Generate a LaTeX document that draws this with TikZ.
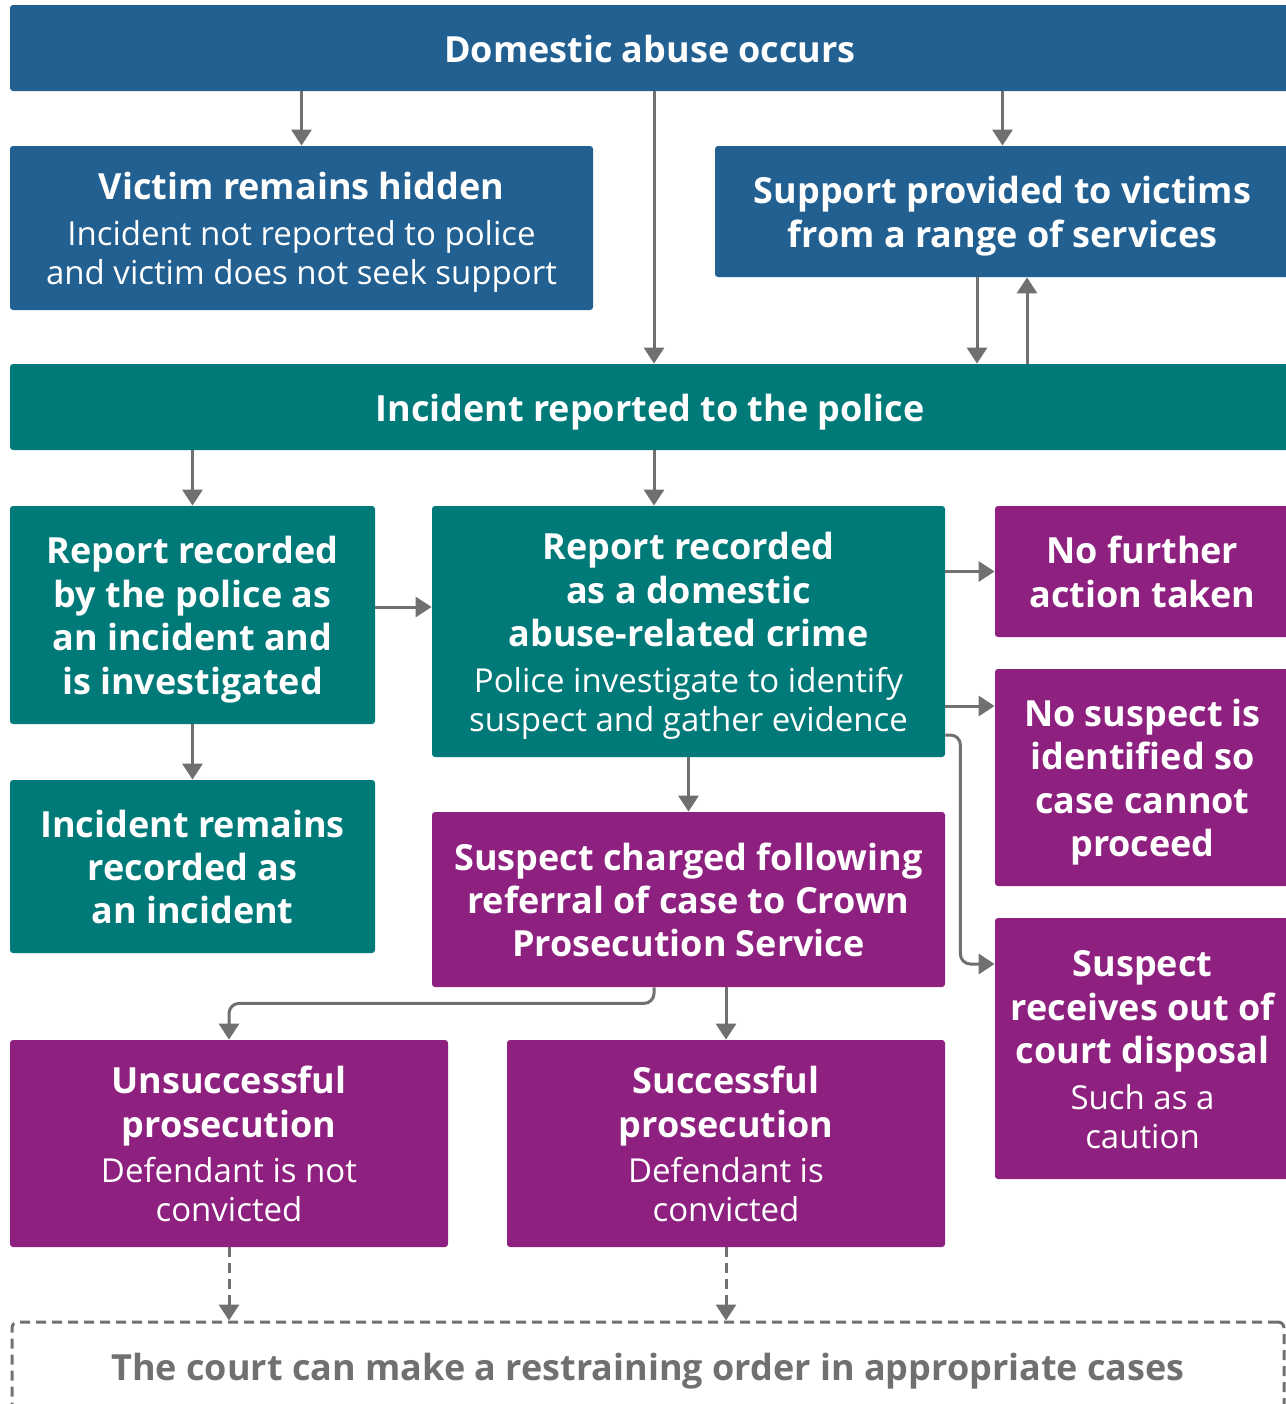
\documentclass[tikz,border=0pt]{standalone}
\usepackage{fontspec}
\setmainfont{Open Sans}
\usetikzlibrary{arrows.meta}
\definecolor{dablue}{HTML}{226091}
\definecolor{dateal}{HTML}{007A78}
\definecolor{dapurple}{HTML}{8E2180}
\definecolor{daline}{HTML}{707070}
\def\subtxt#1{{\fontsize{16.5}{19.5}\selectfont\mdseries #1}}
\def\capup{\rule{0pt}{19pt}}
\def\capdown{\rule[-5pt]{0pt}{5pt}}
\begin{document}
\begin{tikzpicture}[x=0.5pt,y=-0.5pt,
    box/.style={fill=#1,text=white,align=center,inner sep=0pt,rounded corners=1.5pt,
        font=\fontsize{18}{21.7}\selectfont\bfseries},
    flow/.style={draw=daline,line width=1.5pt,-{Triangle[length=8pt,width=10pt]}},
    maybe/.style={flow,dash pattern=on 5pt off 3pt}]
    \useasboundingbox (0,0) rectangle (1286,1404);
    \clip (0,0) rectangle (1286,1404);
    % blue row
    \node[box=dablue,minimum width=640pt,minimum height=43pt] (occurs) at (650,48) {\capup Domestic abuse occurs\capdown};
    \node[box=dablue,minimum width=291.5pt,minimum height=82pt] (hidden) at (301.5,228)
        {\capup Victim remains hidden\\[1pt] \subtxt{Incident not reported to police}\\[-2.2pt] \subtxt{and victim does not seek support}\capdown};
    \node[box=dablue,minimum width=287.5pt,minimum height=65.5pt] (support) at (1002.5,211.5)
        {\capup Support provided to victims\\ from a range of services\capdown};
    % police
    \node[box=dateal,minimum width=640pt,minimum height=43pt] (reported) at (650,407) {\capup Incident reported to the police\capdown};
    \node[box=dateal,minimum width=182.5pt,minimum height=109pt] (incident) at (192.5,615)
        {\capup Report recorded\\ by the police as\\ an incident and\\ is investigated\capdown};
    \node[box=dateal,minimum width=182.5pt,minimum height=86.5pt] (remains) at (192.5,866.5)
        {\capup Incident remains\\ recorded as\\ an incident\capdown};
    \node[box=dateal,minimum width=256.5pt,minimum height=125.5pt] (crime) at (688.5,631.5)
        {\capup Report recorded\\ as a domestic\\ abuse-related crime\\[1pt] \subtxt{Police investigate to identify}\\[-2.2pt] \subtxt{suspect and gather evidence}\capdown};
    % outcomes
    \node[box=dapurple,minimum width=147.5pt,minimum height=65.5pt] (nfa) at (1142.5,571.5)
        {\capup No further\\ action taken\capdown};
    \node[box=dapurple,minimum width=147.5pt,minimum height=108.5pt] (nosuspect) at (1142.5,777.5)
        {\capup No suspect is\\ identified so\\ case cannot\\ proceed\capdown};
    \node[box=dapurple,minimum width=147.5pt,minimum height=130.5pt] (ooc) at (1142.5,1048.5)
        {\capup Suspect\\ receives out of\\ court disposal\\[1pt] \subtxt{Such as a}\\[-2.2pt] \subtxt{caution}\capdown};
    \node[box=dapurple,minimum width=256.5pt,minimum height=87.5pt] (charged) at (688.5,899.5)
        {\capup Suspect charged following\\ referral of case to Crown\\ Prosecution Service\capdown};
    \node[box=dapurple,minimum width=219pt,minimum height=103.5pt] (unsucc) at (229,1143.5)
        {\capup Unsuccessful\\ prosecution\\[1pt] \subtxt{Defendant is not}\\[-2.2pt] \subtxt{convicted}\capdown};
    \node[box=dapurple,minimum width=219pt,minimum height=103.5pt] (succ) at (726,1143.5)
        {\capup Successful\\ prosecution\\[1pt] \subtxt{Defendant is}\\[-2.2pt] \subtxt{convicted}\capdown};
    \node[draw=daline,line width=1.5pt,dash pattern=on 5pt off 3pt,rounded corners=3pt,text=daline,
        minimum width=636pt,minimum height=49pt,font=\fontsize{18}{21.7}\selectfont\bfseries] (court) at (648,1371)
        {\raisebox{2.5pt}{The court can make a restraining order in appropriate cases}};
    % connectors
    \draw[flow] (occurs.south -| hidden) -- (hidden.north);
    \draw[flow] ([xshift=2pt]occurs.south) -- ([xshift=2pt]reported.north);
    \draw[flow] (occurs.south -| support) -- (support.north);
    \draw[flow] ([xshift=-12.75pt]support.south) -- ([xshift=-12.75pt]support.south |- reported.north);
    \draw[flow] ([xshift=12.25pt]support.south |- reported.north) -- ([xshift=12.25pt]support.south);
    \draw[flow] (reported.south -| incident) -- (incident.north);
    \draw[flow] ([xshift=2pt]reported.south) -- ([xshift=2pt]reported.south |- crime.north);
    \draw[flow] ([yshift=4pt]incident.east) -- ([yshift=4pt]incident.east -| crime.west);
    \draw[flow] (crime.east |- nfa) -- (nfa.west);
    \draw[flow] ([yshift=-37.25pt]crime.east) -- ([yshift=-37.25pt]crime.east -| nosuspect.west);
    \draw[flow,rounded corners=5pt] ([yshift=-51.75pt]crime.east) -- ++(7.5pt,0) |- ([yshift=42.25pt]ooc.west);
    \draw[flow] (incident.south) -- (remains.north);
    \draw[flow] (crime.south) -- (charged.north);
    \draw[flow,rounded corners=5pt] ([xshift=-17.25pt]charged.south) -- ++(0,-8pt) -| (unsucc.north);
    \draw[flow] (charged.south -| succ) -- (succ.north);
    \draw[maybe] (unsucc.south) -- (unsucc.south |- court.north);
    \draw[maybe] (succ.south) -- (succ.south |- court.north);
\end{tikzpicture}
\end{document}
